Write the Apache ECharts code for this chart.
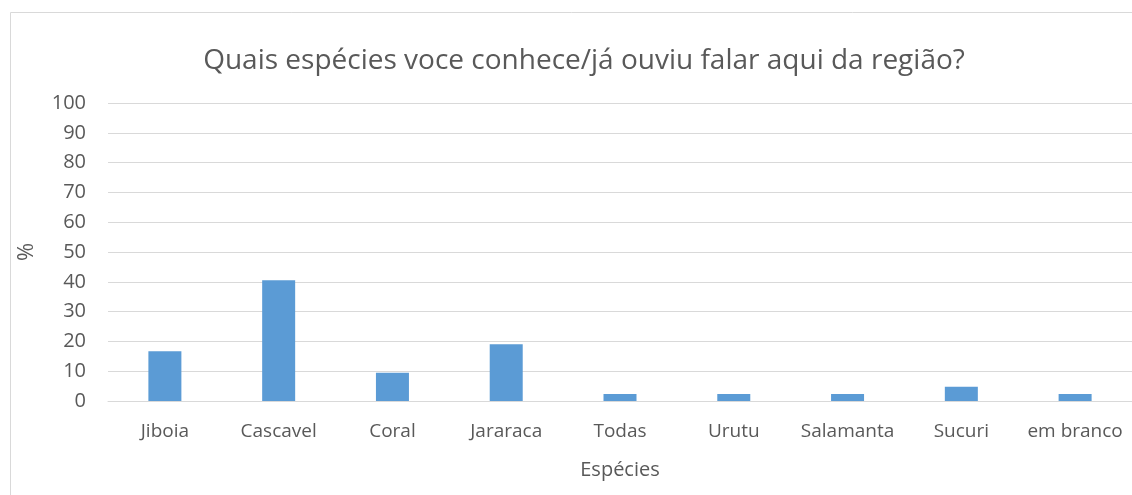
<!DOCTYPE html>
<html><head><meta charset="utf-8">
<script src="https://cdn.jsdelivr.net/npm/echarts@6/dist/echarts.min.js"></script>
<style>html,body{margin:0;padding:0;background:#fff}#c{width:1132px;height:495px}</style>
</head><body><div id="c"></div>
<script>
var categories = ['Jiboia','Cascavel','Coral','Jararaca','Todas','Urutu','Salamanta','Sucuri','em branco'];
var values = [16.67, 40.48, 9.52, 19.05, 2.38, 2.38, 2.38, 4.76, 2.38];
var yTicks = {min: 0, max: 100, interval: 10};
var chart = echarts.init(document.getElementById('c'));
var font = 'Open Sans';
chart.setOption({
  animation: false,
  title: {text: 'Quais espécies voce conhece/já ouviu falar aqui da região?', left: 579, textAlign: 'center', top: 42,
    textStyle: {fontFamily: font, fontSize: 28, fontWeight: 'normal', color: '#595959'}},
  graphic: [{type: 'rect', shape: {x: 10.5, y: 12.5, width: 1130, height: 490}, style: {fill: 'none', stroke: '#d9d9d9', lineWidth: 1}}],
  grid: {left: 108, right: -1, top: 103, bottom: 94},
  xAxis: {type: 'category', data: categories, name: 'Espécies', nameLocation: 'middle', nameGap: 59,
    nameTextStyle: {fontFamily: font, fontSize: 20, color: '#595959'},
    axisLine: {lineStyle: {color: '#d9d9d9'}}, axisTick: {show: false},
    axisLabel: {interval: 0, hideOverlap: false, fontFamily: font, fontSize: 19, color: '#595959', margin: 21}},
  yAxis: {type: 'value', min: yTicks.min, max: yTicks.max, interval: yTicks.interval, name: '%', nameLocation: 'middle', nameGap: 70,
    nameTextStyle: {fontFamily: font, fontSize: 22, color: '#595959'},
    axisLine: {show: false}, axisTick: {show: false},
    splitLine: {lineStyle: {color: '#d9d9d9'}},
    axisLabel: {fontFamily: font, fontSize: 20, color: '#595959', margin: 22}},
  series: [{type: 'bar', data: values, barWidth: 33, itemStyle: {color: '#5b9bd5'}}]
});
</script></body></html>
